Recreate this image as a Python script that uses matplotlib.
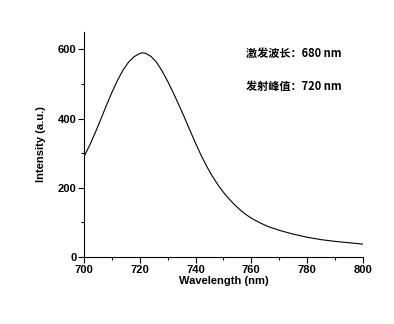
import matplotlib
matplotlib.use("Agg")
from matplotlib import pyplot as plt
from matplotlib.ticker import MultipleLocator

wavelength = [700, 702, 704, 706, 708, 710, 712, 714, 716, 718, 720, 721, 722, 724,
              726, 728, 730, 732, 734, 736, 738, 740, 742, 744, 746, 748, 750, 752,
              754, 756, 758, 760, 763, 766, 770, 775, 780, 785, 790, 795, 800]
intensity = [289, 322, 358, 397, 437, 475, 510, 540, 563, 579, 588, 590, 589, 580,
             563, 538, 508, 475, 440, 404, 366, 329, 294, 262, 234, 209, 187, 168,
             151, 136, 123, 112, 99, 88, 77, 66, 57, 50, 45, 41, 37]
notes = ["激发波长：680 nm", "发射峰值：720 nm"]

plt.rcParams['font.family'] = ['Liberation Sans', 'Noto Sans CJK SC', 'DejaVu Sans']
plt.rcParams['font.weight'] = 'bold'

fig = plt.figure(figsize=(3.94, 3.24), dpi=100)
ax = fig.add_axes([0.213, 0.207, 0.708, 0.694])

ax.plot(wavelength, intensity, color='black', linewidth=0.8)

ax.set_xlim(700, 800)
ax.set_ylim(0, 650)
ax.xaxis.set_major_locator(MultipleLocator(20))
ax.xaxis.set_minor_locator(MultipleLocator(10))
ax.yaxis.set_major_locator(MultipleLocator(200))
ax.yaxis.set_minor_locator(MultipleLocator(100))
ax.tick_params(which='both', direction='out', width=0.8, labelsize=8)
ax.tick_params(which='major', length=4, pad=1.5)
ax.tick_params(which='minor', length=2.5)

for s in ['top', 'right']:
    ax.spines[s].set_visible(False)
for s in ['left', 'bottom']:
    ax.spines[s].set_linewidth(0.8)

ax.set_xlabel('Wavelength (nm)', fontsize=8, fontweight='bold', labelpad=1)
ax.set_ylabel('Intensity (a.u.)', fontsize=8, fontweight='bold', labelpad=8)

ax.text(0.58, 0.905, notes[0], transform=ax.transAxes, fontsize=8,
        fontweight='bold', family=['Noto Sans CJK SC', 'DejaVu Sans'], va='center')
ax.text(0.58, 0.76, notes[1], transform=ax.transAxes, fontsize=8,
        fontweight='bold', family=['Noto Sans CJK SC', 'DejaVu Sans'], va='center')

fig.savefig('out.png', dpi=100)
